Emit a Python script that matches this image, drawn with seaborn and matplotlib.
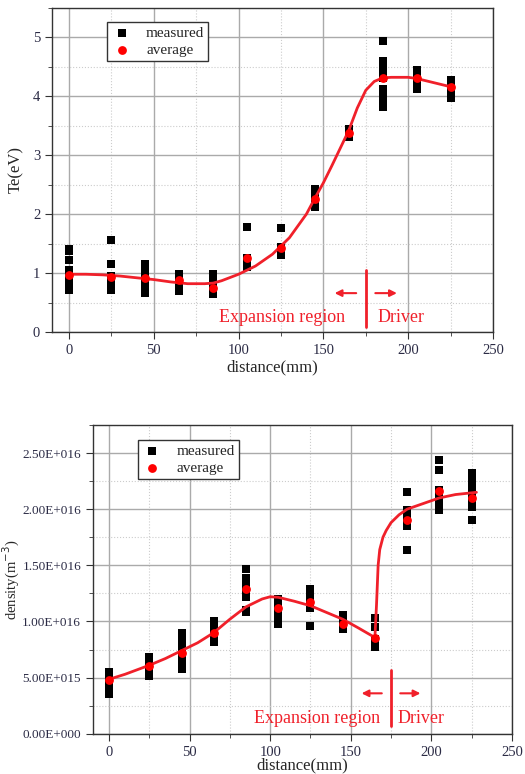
import numpy as np
import pandas as pd
import matplotlib
matplotlib.use("Agg")
import matplotlib.pyplot as plt
from matplotlib.ticker import MultipleLocator, FuncFormatter
import seaborn as sns

sns.set_style("ticks")
plt.rcParams["font.family"] = ["Liberation Serif", "DejaVu Serif"]

# positions of the probe (mm)
positions = [0, 25, 45, 65, 85, 105, 125, 145, 165, 185, 205, 225]

# electron temperature, measured points per position (eV)
te_measured = [
    [1.40, 1.38, 1.23, 1.05, 1.0, 0.95, 0.85, 0.78, 0.72],
    [1.56, 1.15, 0.95, 0.90, 0.80, 0.72],
    [1.15, 1.10, 1.0, 0.90, 0.80, 0.72, 0.66],
    [0.98, 0.92, 0.85, 0.72, 0.70],
    [0.98, 0.90, 0.80, 0.70, 0.65],
    [1.78, 1.25, 1.15, 1.10],
    [1.76, 1.45, 1.40, 1.35, 1.30],
    [2.42, 2.38, 2.30, 2.20, 2.12],
    [3.45, 3.38, 3.30],
    [4.94, 4.60, 4.50, 4.40, 4.30, 4.12, 4.0, 3.90, 3.82],
    [4.45, 4.40, 4.30, 4.20, 4.12],
    [4.28, 4.20, 4.10, 4.0, 3.97],
]
te_average = [0.97, 0.93, 0.91, 0.88, 0.74, 1.25, 1.43, 2.25, 3.37, 4.30, 4.30, 4.16]

# fitted curve
te_fit_x = [0, 10, 20, 30, 40, 50, 60, 70, 80, 85, 90, 100, 110, 120, 130, 140,
            145, 150, 155, 160, 165, 170, 175, 180, 185, 190, 200, 205, 215, 225]
te_fit_y = [0.98, 0.98, 0.97, 0.95, 0.92, 0.89, 0.85, 0.82, 0.82, 0.83, 0.87, 0.98,
            1.12, 1.32, 1.60, 2.00, 2.27, 2.53, 2.82, 3.12, 3.42, 3.80, 4.10, 4.25,
            4.31, 4.32, 4.32, 4.30, 4.23, 4.16]

# density, measured points per position (units of 1e15 m^-3)
ne_measured = [
    [5.5, 5.2, 4.9, 4.6, 4.3, 4.0, 3.7, 3.5],
    [6.8, 6.5, 6.2, 5.9, 5.6, 5.3, 5.1],
    [9.0, 8.6, 8.2, 7.7, 7.2, 6.8, 6.3, 5.8],
    [10.0, 9.6, 9.2, 8.8, 8.2],
    [14.7, 13.9, 13.5, 13.0, 12.5, 12.2, 11.0, 10.8],
    [12.0, 11.7, 11.3, 11.0, 10.5, 9.8],
    [12.9, 12.4, 12.0, 11.5, 11.2, 9.6],
    [10.6, 10.2, 9.8, 9.5, 9.3],
    [10.3, 9.5, 8.4, 8.0, 7.7],
    [21.5, 19.9, 19.5, 19.0, 18.5, 16.4],
    [24.4, 23.5, 21.7, 21.2, 20.5, 19.9],
    [23.2, 22.8, 22.4, 22.0, 21.5, 21.0, 20.5, 20.2, 19.0],
]
ne_average = [4.8, 6.0, 7.2, 8.95, 12.9, 11.2, 11.75, 9.75, 8.55, 19.05, 21.6, 21.0]

ne_fit_x = [0, 10, 25, 35, 45, 55, 65, 75, 85, 95, 100, 105, 115, 125, 135, 145,
            155, 165, 166, 167, 168, 170, 172, 175, 180, 185, 195, 205, 215, 228]
ne_fit_y = [4.85, 5.3, 6.1, 6.7, 7.4, 8.1, 9.0, 10.2, 11.3, 12.0, 12.2, 12.15, 11.8,
            11.4, 10.8, 10.2, 9.4, 8.57, 11.5, 15.0, 16.4, 17.5, 18.1, 18.8, 19.5,
            20.0, 20.5, 21.0, 21.3, 21.5]

RED = "#f0202a"
TICK_COLOR = "#2b2b45"


def long_table(xs, groups, scale=1.0):
    rows = []
    for x, vals in zip(xs, groups):
        for v in vals:
            rows.append({"distance": x, "value": v * scale})
    return pd.DataFrame(rows)


def origin_sci(v, pos):
    # Origin style labels like 2.50E+016
    if v <= 0:
        return "0.00E+000"
    exp = int(np.floor(np.log10(v)))
    return "%.2fE+%03d" % (v / 10 ** exp, exp)


def style_axes(ax):
    ax.grid(which="major", color="#aaaaaa", linewidth=1.0, linestyle="-")
    ax.grid(which="minor", color="#cccccc", linewidth=0.8, linestyle=":")
    ax.set_axisbelow(True)
    for sp in ax.spines.values():
        sp.set_color("#333333")
        sp.set_linewidth(1.0)
    ax.tick_params(which="major", direction="out", length=5, color="#333333",
                   labelcolor=TICK_COLOR, labelsize=10.5)
    ax.tick_params(which="minor", direction="out", length=3, color="#333333")


def draw_panel(ax, meas, avg, fx, fy, scale):
    df = long_table(positions, meas, scale)
    fit = pd.DataFrame({"distance": fx, "value": np.array(fy) * scale})
    avg_df = pd.DataFrame({"distance": positions, "value": np.array(avg) * scale})
    sns.lineplot(data=fit, x="distance", y="value", ax=ax, color=RED,
                 linewidth=2.0, zorder=3)
    sns.scatterplot(data=df, x="distance", y="value", ax=ax, marker="s",
                    color="black", s=36, linewidth=0, zorder=2, label="measured")
    sns.scatterplot(data=avg_df, x="distance", y="value", ax=ax, marker="o",
                    color="red", s=40, linewidth=0, zorder=4, label="average")


def annotate_region(ax, y_line0, y_line1, y_arrow, y_text, x_exp_end, x_drv):
    ax.plot([175, 175], [y_line0, y_line1], color=RED, linewidth=2.0, zorder=5)
    ax.annotate("", xy=(155, y_arrow), xytext=(171, y_arrow),
                arrowprops=dict(arrowstyle="-|>", color=RED, lw=1.5,
                                mutation_scale=10))
    ax.annotate("", xy=(195, y_arrow), xytext=(179, y_arrow),
                arrowprops=dict(arrowstyle="-|>", color=RED, lw=1.5,
                                mutation_scale=10))
    ax.text(x_exp_end, y_text, "Expansion region", color=RED, fontsize=13,
            ha="right", va="center")
    ax.text(x_drv, y_text, "Driver", color=RED, fontsize=13,
            ha="left", va="center")


def add_legend(ax, x0, y0):
    leg = ax.legend(loc="upper left", bbox_to_anchor=(x0, y0), fancybox=False,
                    edgecolor="#333333", framealpha=1, fontsize=11,
                    handlelength=1.4, handletextpad=0.9, borderpad=0.25,
                    labelspacing=0.25, borderaxespad=0)
    leg.get_frame().set_linewidth(1.0)


fig = plt.figure(figsize=(5.25, 7.74), dpi=100)
ax1 = fig.add_axes([0.099, 0.571, 0.840, 0.419])
ax2 = fig.add_axes([0.177, 0.052, 0.798, 0.399])

# top panel: electron temperature
draw_panel(ax1, te_measured, te_average, te_fit_x, te_fit_y, 1.0)
ax1.set_xlim(-10, 250)
ax1.set_ylim(0, 5.5)
ax1.xaxis.set_major_locator(MultipleLocator(50))
ax1.xaxis.set_minor_locator(MultipleLocator(25))
ax1.yaxis.set_major_locator(MultipleLocator(1))
ax1.yaxis.set_minor_locator(MultipleLocator(0.5))
ax1.set_xlabel("distance(mm)", fontsize=12, labelpad=2)
ax1.set_ylabel("Te(eV)", fontsize=12, labelpad=6)
style_axes(ax1)
annotate_region(ax1, 0.08, 1.05, 0.66, 0.25, 163, 182)
add_legend(ax1, 0.125, 0.955)

# bottom panel: density
draw_panel(ax2, ne_measured, ne_average, ne_fit_x, ne_fit_y, 1e15)
ax2.set_xlim(-10, 250)
ax2.set_ylim(0, 2.75e16)
ax2.xaxis.set_major_locator(MultipleLocator(50))
ax2.xaxis.set_minor_locator(MultipleLocator(25))
ax2.yaxis.set_major_locator(MultipleLocator(5e15))
ax2.yaxis.set_minor_locator(MultipleLocator(2.5e15))
ax2.yaxis.set_major_formatter(FuncFormatter(origin_sci))
ax2.set_xlabel("distance(mm)", fontsize=12, labelpad=-1)
ax2.set_ylabel("density(m$^{-3}$)", fontsize=10.5)
ax2.yaxis.set_label_coords(-0.17, 0.5)
style_axes(ax2)
ax2.tick_params(axis="y", labelsize=9.5)
annotate_region(ax2, 0.7e15, 5.7e15, 3.6e15, 1.4e15, 168.5, 179)
add_legend(ax2, 0.107, 0.951)

fig.savefig("out.png", dpi=100)
